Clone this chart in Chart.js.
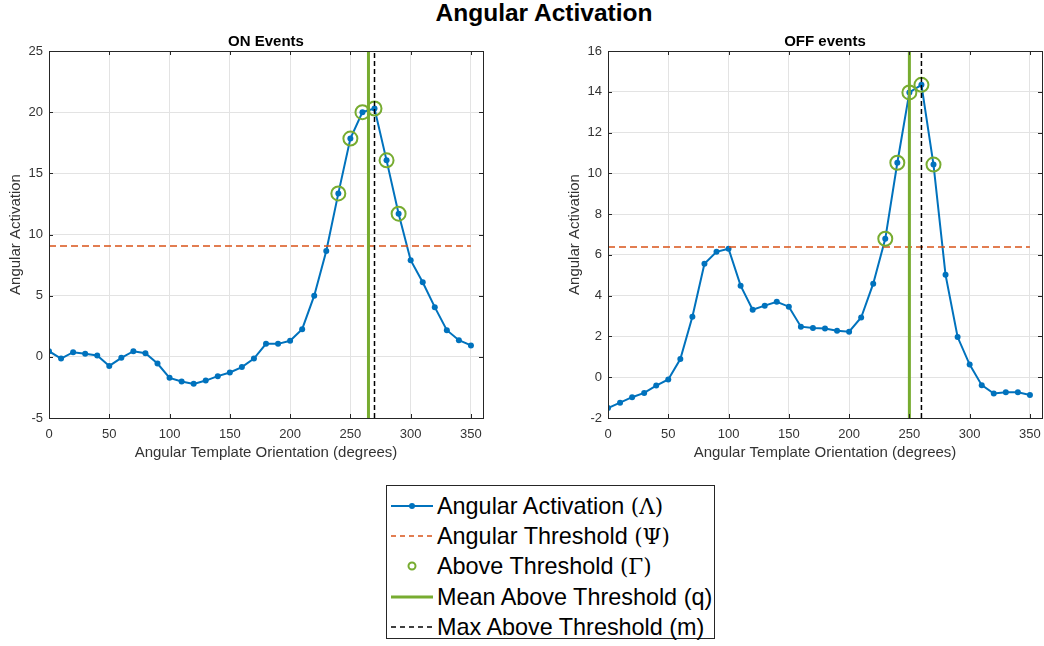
<!DOCTYPE html>
<html><head><meta charset="utf-8">
<script src="https://cdn.jsdelivr.net/npm/chart.js@4.4.0/dist/chart.umd.min.js"></script>
<style>
html,body{margin:0;padding:0;background:#fff;width:1044px;height:646px;overflow:hidden;font-family:"Liberation Sans",Arial,sans-serif;position:relative;}
#title{position:absolute;left:22px;top:0;width:1044px;text-align:center;font-weight:bold;font-size:24.5px;line-height:26px;color:#000;}
canvas{position:absolute;}
#legend{position:absolute;left:386px;top:485px;width:329px;height:154px;border:1px solid #262626;box-sizing:border-box;background:#fff;}
.row{position:absolute;left:0;height:30px;width:100%;}
.row svg{position:absolute;left:3px;top:0;}
.lbl{position:absolute;left:50px;top:0;line-height:30px;font-size:23.4px;color:#000;white-space:nowrap;}
.g{font-family:"DejaVu Serif","Liberation Serif",serif;font-size:21.5px;}
</style></head>
<body>
<div id="title">Angular Activation</div>
<canvas id="cOn" width="500" height="440" style="left:0;top:30px;"></canvas>
<canvas id="cOff" width="492" height="440" style="left:559px;top:30px;"></canvas>
<div id="legend"></div>
<script>
// ---- data ----
const angles = [0,10,20,30,40,50,60,70,80,90,100,110,120,130,140,150,160,170,180,190,200,210,220,230,240,250,260,270,280,290,300,310,320,330,340,350];
const onActivation = [0.46,-0.14,0.38,0.25,0.11,-0.74,-0.08,0.46,0.30,-0.55,-1.72,-2.02,-2.21,-1.94,-1.58,-1.28,-0.84,-0.14,1.06,1.06,1.31,2.26,5.0,8.65,13.36,17.84,20.0,20.3,16.06,11.7,7.9,6.1,4.06,2.18,1.36,0.93];
const offActivation = [-1.51,-1.25,-0.98,-0.77,-0.41,-0.11,0.89,2.97,5.56,6.15,6.30,4.49,3.31,3.51,3.70,3.46,2.48,2.41,2.39,2.28,2.23,2.93,4.59,6.79,10.52,13.97,14.34,10.43,5.02,1.97,0.62,-0.39,-0.80,-0.74,-0.74,-0.87];
const onThreshold = 9.05;
const offThreshold = 6.39;
const xTicks = [0,50,100,150,200,250,300,350];
const onYTicks = [-5,0,5,10,15,20,25];
const offYTicks = [-2,0,2,4,6,8,10,12,14,16];
const legendLabels = ['Angular Activation ', 'Angular Threshold ', 'Above Threshold ', 'Mean Above Threshold (q)', 'Max Above Threshold (m)'];
const legendSymbols = ['(\u039B)', '(\u03A8)', '(\u0393)', '', ''];

const FONT = '"Liberation Sans", Arial, sans-serif';
const BLUE = '#0072BD', ORANGE = '#D95319', GREEN = '#77AC30', BLACK = '#000000';

const boxPlugin = {
  id: 'box',
  afterDraw(chart) {
    const {ctx, chartArea: a, scales} = chart;
    ctx.save();
    ctx.strokeStyle = '#262626';
    ctx.lineWidth = 1;
    ctx.beginPath();
    scales.x.ticks.forEach(t => {
      const px = Math.round(scales.x.getPixelForValue(t.value)) + 0.5;
      ctx.moveTo(px, a.bottom); ctx.lineTo(px, a.bottom - 4);
      ctx.moveTo(px, a.top); ctx.lineTo(px, a.top + 4);
    });
    scales.y.ticks.forEach(t => {
      const py = Math.round(scales.y.getPixelForValue(t.value)) + 0.5;
      ctx.moveTo(a.left, py); ctx.lineTo(a.left + 4, py);
      ctx.moveTo(a.right, py); ctx.lineTo(a.right - 4, py);
    });
    ctx.stroke();
    ctx.strokeRect(Math.round(a.left) + 0.5, Math.round(a.top) + 0.5, Math.round(a.right - a.left), Math.round(a.bottom - a.top));
    ctx.restore();
  }
};

function makeChart(id, title, values, thr, yTicks, rightPad) {
  const yMin = yTicks[0], yMax = yTicks[yTicks.length - 1];
  const above = angles.map((a, i) => ({x: a, y: values[i]})).filter(p => p.y > thr);
  const meanX = above.reduce((s, p) => s + p.x, 0) / above.length;
  const maxP = above.reduce((m, p) => p.y > m.y ? p : m, above[0]);
  new Chart(document.getElementById(id), {
    type: 'line',
    data: {
      datasets: [
        {data: angles.map((a, i) => ({x: a, y: values[i]})), borderColor: BLUE, backgroundColor: BLUE, borderWidth: 2,
         pointRadius: 3, pointBorderWidth: 0, pointBackgroundColor: BLUE, tension: 0, order: 5},
        {data: [{x: angles[0], y: thr}, {x: angles[angles.length - 1], y: thr}], borderColor: ORANGE, borderWidth: 1.5,
         borderDash: [7, 4], pointRadius: 0, order: 4},
        {data: above, showLine: false, pointRadius: 7, pointBorderWidth: 2, pointBorderColor: GREEN,
         pointBackgroundColor: 'rgba(0,0,0,0)', borderColor: GREEN, order: 3},
        {data: [{x: meanX, y: yMin}, {x: meanX, y: yMax}], borderColor: GREEN, borderWidth: 3, pointRadius: 0, order: 2},
        {data: [{x: maxP.x, y: yMin}, {x: maxP.x, y: yMax}], borderColor: BLACK, borderWidth: 1.5, borderDash: [5, 3], pointRadius: 0, order: 1}
      ]
    },
    options: {
      responsive: false, animation: false, devicePixelRatio: 1,
      layout: {padding: {top: 3, right: rightPad, bottom: 0, left: 0}},
      plugins: {
        legend: {display: false}, tooltip: {enabled: false},
        title: {display: true, text: title, fullSize: false, color: '#000',
                font: {family: FONT, size: 15, weight: 'bold'}, padding: {top: 0, bottom: 0}}
      },
      scales: {
        x: {
          type: 'linear', min: 0, max: 360,
          afterBuildTicks: s => { s.ticks = xTicks.map(v => ({value: v})); },
          afterFit: s => { s.height = 52; },
          grid: {color: '#e3e3e3', drawTicks: false}, border: {display: false},
          ticks: {padding: 9, color: '#333', font: {family: FONT, size: 13}, maxRotation: 0, autoSkip: false},
          title: {display: true, text: 'Angular Template Orientation (degrees)', color: '#333',
                  font: {family: FONT, size: 15}, padding: {top: 0, bottom: 8}}
        },
        y: {
          type: 'linear', min: yMin, max: yMax,
          afterBuildTicks: s => { s.ticks = yTicks.map(v => ({value: v})); },
          afterFit: s => { s.width = 49; },
          grid: {color: '#e3e3e3', drawTicks: false}, border: {display: false},
          ticks: {padding: 6, color: '#333', font: {family: FONT, size: 13}, autoSkip: false},
          title: {display: true, text: 'Angular Activation', color: '#333',
                  font: {family: FONT, size: 15}, padding: {top: 7, bottom: 0}}
        }
      }
    },
    plugins: [boxPlugin]
  });
}

makeChart('cOn', 'ON Events', onActivation, onThreshold, onYTicks, 17);
makeChart('cOff', 'OFF events', offActivation, offThreshold, offYTicks, 2);

// ---- legend (HTML) ----
const swatches = [
  '<line x1="1" y1="15" x2="43" y2="15" stroke="' + BLUE + '" stroke-width="2"/><circle cx="22" cy="15" r="3" fill="' + BLUE + '"/>',
  '<line x1="1" y1="15" x2="43" y2="15" stroke="' + ORANGE + '" stroke-width="1.5" stroke-dasharray="5,4"/>',
  '<circle cx="22" cy="15" r="3.5" fill="none" stroke="' + GREEN + '" stroke-width="2"/>',
  '<line x1="1" y1="15" x2="43" y2="15" stroke="' + GREEN + '" stroke-width="3"/>',
  '<line x1="1" y1="15" x2="43" y2="15" stroke="' + BLACK + '" stroke-width="1.5" stroke-dasharray="5,4"/>'
];
const leg = document.getElementById('legend');
legendLabels.forEach((lab, i) => {
  const row = document.createElement('div');
  row.className = 'row';
  row.style.top = (5 + i * 30.2) + 'px';
  row.innerHTML = '<svg width="46" height="30">' + swatches[i] + '</svg><span class="lbl">' + lab +
    (legendSymbols[i] ? '<span class="g">' + legendSymbols[i] + '</span>' : '') + '</span>';
  leg.appendChild(row);
});
</script>
</body></html>
